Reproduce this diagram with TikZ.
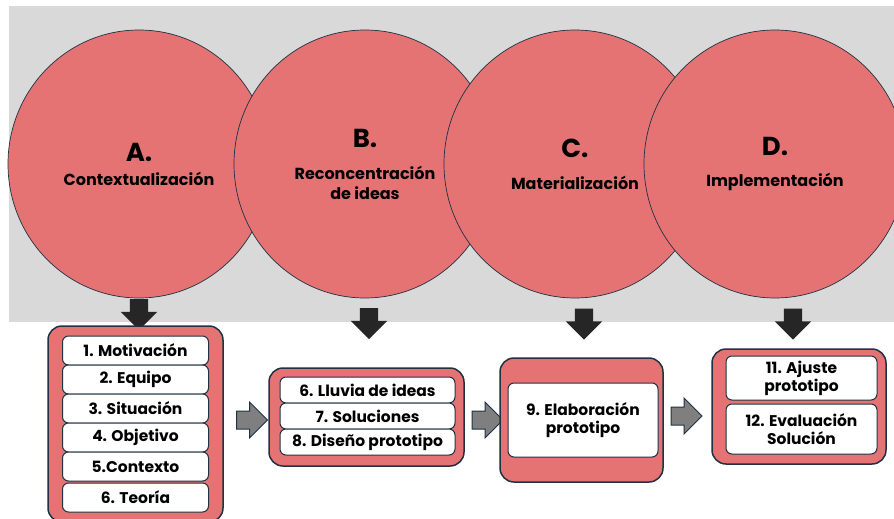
\documentclass[tikz,border=0pt]{standalone}
\usepackage{fontspec}
\setmainfont{Poppins}
\usetikzlibrary{shapes.geometric}
\usetikzlibrary{shapes.arrows}
\definecolor{salmon}{HTML}{E57373}
\definecolor{navy}{HTML}{1F3142}
\definecolor{bggray}{HTML}{D9D9D9}
\definecolor{arrowdark}{HTML}{262626}
\definecolor{arrowgray}{HTML}{7F7F7F}
\newcommand{\Letra}[1]{{\fontsize{26}{30}\selectfont #1}}

\begin{document}
\begin{tikzpicture}[x=1pt, y=-1pt, every node/.style={font=\fontsize{15.5}{18}\selectfont\bfseries},
   Fase/.style={ellipse, draw=navy, line width=0.7pt, fill=salmon, minimum width=262pt, minimum height=268pt,
      align=center, inner sep=0pt, font=\fontsize{16}{20}\selectfont\bfseries},
   Marco/.style={rectangle, rounded corners=14pt, draw=navy, line width=1.5pt, fill=salmon, inner sep=0pt},
   Paso/.style={rectangle, rounded corners=6pt, draw=navy, line width=1pt, fill=white, align=center, inner sep=0pt},
   Baja/.style={single arrow, shape border rotate=270, fill=arrowdark, minimum height=31pt, minimum width=36pt,
      inner sep=9pt, single arrow head extend=9pt},
   Sigue/.style={single arrow, draw=navy, line width=1pt, fill=arrowgray, minimum height=31pt, minimum width=35pt,
      inner sep=8.5pt, single arrow head extend=9pt}]
   \useasboundingbox (0,0) rectangle (894,519);
   \fill[bggray] (9,6) rectangle (900,322);
   \node[Fase] (Contextualizacion) at (139,164) {\Letra{A.}\\[4pt]Contextualización};
   \node[Fase] (Reconcentracion) at (365,164) {\Letra{B.}\\[12pt]Reconcentración\\de ideas};
   \node[Fase] (Materializacion) at (575,164) {\Letra{C.}\\[12pt]Materialización};
   \node[Fase] (Implementacion) at (775,164) {\Letra{D.}\\[12pt]Implementación};
   \node[Baja] (bajaA) at (139,310) {};
   \node[Baja] (bajaB) at (369,319) {};
   \node[Baja] (bajaC) at (584,319.5) {};
   \node[Baja] (bajaD) at (793,319.5) {};
   \node[Marco, minimum width=175pt, minimum height=196pt] (marcoA) at (135.5,424) {};
   \node[Paso, minimum width=146pt, minimum height=29pt] (Motivacion) at (135.5,350.5) {1. Motivación};
   \node[Paso, minimum width=146pt, minimum height=29pt] (Equipo) at (135.5,379.5) {2. Equipo};
   \node[Paso, minimum width=146pt, minimum height=29pt] (Situacion) at (135.5,408.5) {3. Situación};
   \node[Paso, minimum width=146pt, minimum height=29pt] (Objetivo) at (135.5,437.5) {4. Objetivo};
   \node[Paso, minimum width=146pt, minimum height=29pt] (Contexto) at (135.5,466.5) {5.Contexto};
   \node[Paso, minimum width=146pt, minimum height=29pt] (Teoria) at (135.5,497.5) {6. Teoría};
   \node[Sigue] (sigueA) at (247.5,420) {};
   \node[Marco, minimum width=195pt, minimum height=98pt] (marcoB) at (366.5,417) {};
   \node[Paso, minimum width=175pt, minimum height=26pt] (Lluvia) at (367.5,390) {6. Lluvia de ideas};
   \node[Paso, minimum width=175pt, minimum height=26pt] (Soluciones) at (367.5,416) {7. Soluciones};
   \node[Paso, minimum width=175pt, minimum height=26pt] (Diseno) at (367.5,442) {8. Diseño prototipo};
   \node[Sigue] (sigueB) at (483,420) {};
   \node[Marco, minimum width=163pt, minimum height=124pt] (marcoC) at (581.5,420) {};
   \node[Paso, minimum width=150pt, minimum height=74pt] (Elaboracion) at (583,420) {9. Elaboración\\prototipo};
   \node[Sigue] (sigueC) at (682,416) {};
   \node[Marco, minimum width=174pt, minimum height=115pt] (marcoD) at (799,406.5) {};
   \node[Paso, minimum width=151pt, minimum height=44pt] (Ajuste) at (801.5,378) {11. Ajuste\\prototipo};
   \node[Paso, minimum width=151pt, minimum height=50pt] (Evaluacion) at (801.5,429) {12. Evaluación\\Solución};
\end{tikzpicture}
\end{document}
